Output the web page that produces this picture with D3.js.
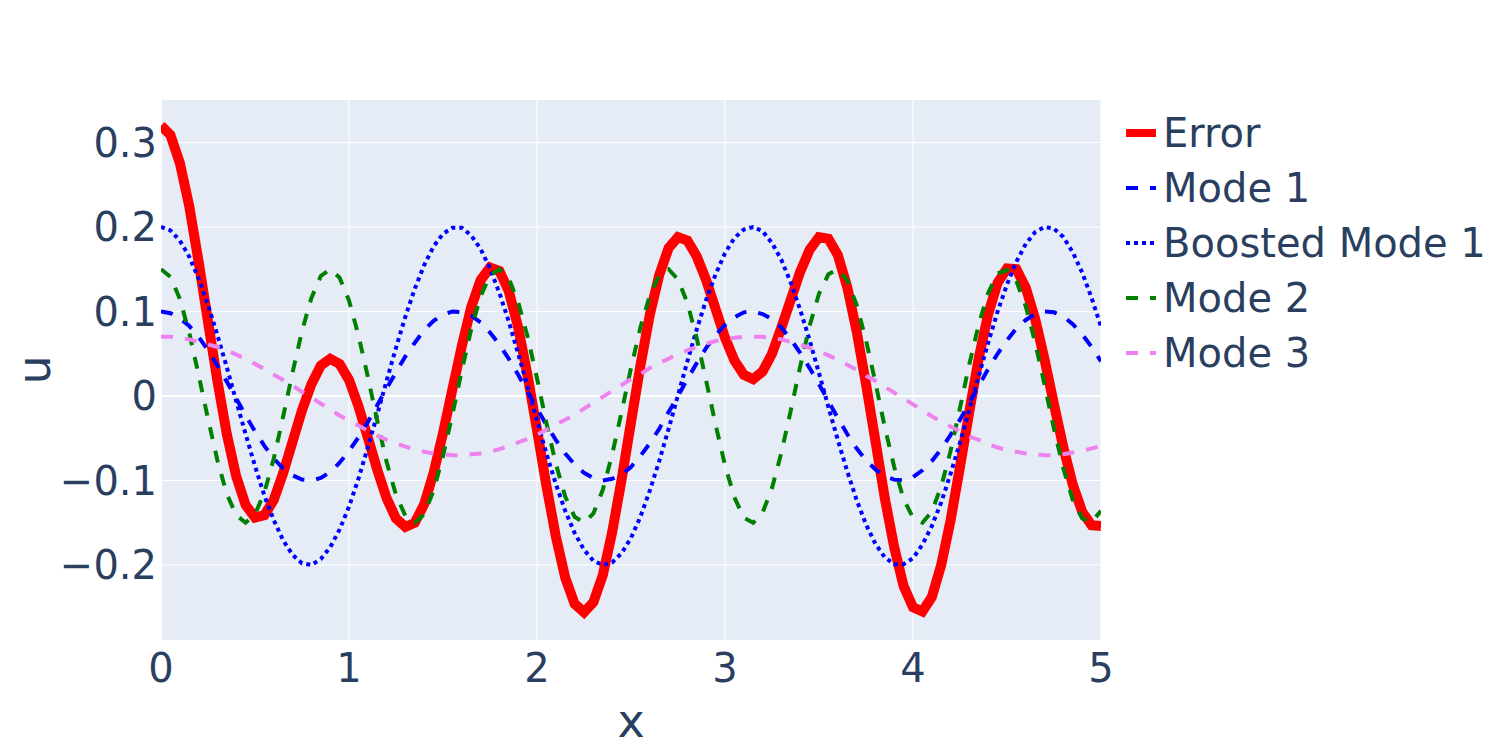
<!DOCTYPE html>
<meta charset="utf-8">
<style>
html, body { margin: 0; padding: 0; background: #fff; }
text { font-family: "DejaVu Sans", Verdana, sans-serif; fill: #2a3f5f; }
</style>
<body>
<svg width="1500" height="750"></svg>
<script src="https://cdn.jsdelivr.net/npm/d3@7"></script>
<script>

// sample positions along x
var xValues = [0,0.05,0.1,0.15,0.2,0.25,0.3,0.35,0.4,0.45,0.5,0.55,0.6,0.65,0.7,0.75,0.8,0.85,0.9,0.95,
    1,1.05,1.1,1.15,1.2,1.25,1.3,1.35,1.4,1.45,1.5,1.55,1.6,1.65,1.7,1.75,1.8,1.85,1.9,1.95,
    2,2.05,2.1,2.15,2.2,2.25,2.3,2.35,2.4,2.45,2.5,2.55,2.6,2.65,2.7,2.75,2.8,2.85,2.9,2.95,
    3,3.05,3.1,3.15,3.2,3.25,3.3,3.35,3.4,3.45,3.5,3.55,3.6,3.65,3.7,3.75,3.8,3.85,3.9,3.95,
    4,4.05,4.1,4.15,4.2,4.25,4.3,4.35,4.4,4.45,4.5,4.55,4.6,4.65,4.7,4.75,4.8,4.85,4.9,4.95,5];

var errorValues = [0.320,0.309,0.276,0.225,0.159,0.088,0.018,-0.045,-0.095,-0.129,
    -0.144,-0.141,-0.123,-0.091,-0.054,-0.017,0.014,0.036,0.044,0.038,
    0.019,-0.012,-0.049,-0.087,-0.121,-0.145,-0.155,-0.150,-0.128,-0.091,
    -0.044,0.008,0.059,0.105,0.137,0.152,0.148,0.124,0.081,0.024,
    -0.040,-0.106,-0.166,-0.215,-0.246,-0.256,-0.244,-0.212,-0.161,-0.099,
    -0.031,0.036,0.096,0.143,0.175,0.188,0.184,0.165,0.137,0.103,
    0.069,0.042,0.025,0.020,0.029,0.050,0.081,0.114,0.147,0.173,
    0.188,0.186,0.167,0.129,0.077,0.014,-0.053,-0.121,-0.179,-0.225,
    -0.250,-0.255,-0.238,-0.200,-0.147,-0.084,-0.018,0.045,0.097,0.134,
    0.151,0.150,0.128,0.091,0.043,-0.010,-0.061,-0.105,-0.137,-0.153,
    -0.154];

var mode1Values = [0.100,0.098,0.092,0.083,0.070,0.054,0.036,0.017,-0.003,-0.023,
    -0.042,-0.059,-0.074,-0.086,-0.094,-0.099,-0.100,-0.097,-0.090,-0.079,
    -0.065,-0.049,-0.031,-0.011,0.009,0.028,0.047,0.063,0.078,0.089,
    0.096,0.100,0.099,0.095,0.087,0.075,0.061,0.044,0.025,0.005,
    -0.015,-0.034,-0.052,-0.068,-0.081,-0.091,-0.097,-0.100,-0.098,-0.093,
    -0.084,-0.071,-0.056,-0.039,-0.019,0.000,0.020,0.039,0.057,0.072,
    0.084,0.093,0.099,0.100,0.097,0.091,0.081,0.067,0.051,0.033,
    0.014,-0.006,-0.026,-0.045,-0.062,-0.076,-0.087,-0.095,-0.099,-0.100,
    -0.096,-0.088,-0.077,-0.063,-0.046,-0.028,-0.008,0.012,0.032,0.050,
    0.066,0.080,0.090,0.097,0.100,0.099,0.094,0.085,0.073,0.058,
    0.041];

var boostedValues = [0.200,0.196,0.184,0.165,0.139,0.108,0.072,0.034,-0.006,-0.045,
    -0.083,-0.118,-0.147,-0.171,-0.188,-0.198,-0.200,-0.193,-0.179,-0.158,
    -0.131,-0.098,-0.061,-0.022,0.018,0.057,0.094,0.127,0.155,0.177,
    0.192,0.199,0.199,0.190,0.174,0.151,0.122,0.088,0.050,0.011,
    -0.029,-0.068,-0.104,-0.136,-0.162,-0.182,-0.195,-0.200,-0.197,-0.186,
    -0.168,-0.143,-0.112,-0.077,-0.039,0.001,0.041,0.079,0.114,0.144,
    0.169,0.187,0.197,0.200,0.195,0.181,0.161,0.134,0.102,0.066,
    0.027,-0.013,-0.052,-0.089,-0.123,-0.152,-0.175,-0.191,-0.199,-0.199,
    -0.192,-0.176,-0.154,-0.126,-0.092,-0.055,-0.016,0.024,0.063,0.100,
    0.132,0.159,0.180,0.194,0.200,0.198,0.188,0.170,0.146,0.116,
    0.082];

var mode2Values = [0.150,0.141,0.115,0.075,0.025,-0.027,-0.076,-0.116,-0.141,-0.150,
    -0.140,-0.114,-0.074,-0.024,0.028,0.077,0.116,0.142,0.150,0.140,
    0.113,0.072,0.023,-0.029,-0.078,-0.117,-0.142,-0.150,-0.140,-0.112,
    -0.071,-0.022,0.030,0.079,0.118,0.143,0.150,0.139,0.111,0.070,
    0.021,-0.032,-0.080,-0.119,-0.143,-0.150,-0.139,-0.111,-0.069,-0.019,
    0.033,0.081,0.119,0.143,0.150,0.138,0.110,0.068,0.018,-0.034,
    -0.082,-0.120,-0.144,-0.150,-0.138,-0.109,-0.067,-0.017,0.035,0.083,
    0.121,0.144,0.150,0.137,0.108,0.066,0.016,-0.037,-0.084,-0.122,
    -0.144,-0.150,-0.137,-0.107,-0.065,-0.014,0.038,0.085,0.122,0.145,
    0.149,0.136,0.106,0.063,0.013,-0.039,-0.086,-0.123,-0.145,-0.149,
    -0.136];

var mode3Values = [0.070,0.070,0.069,0.067,0.064,0.061,0.058,0.054,0.049,0.044,
    0.038,0.032,0.025,0.019,0.012,0.005,-0.002,-0.009,-0.016,-0.023,
    -0.029,-0.035,-0.041,-0.047,-0.052,-0.056,-0.060,-0.063,-0.066,-0.068,
    -0.069,-0.070,-0.070,-0.069,-0.068,-0.066,-0.063,-0.059,-0.055,-0.051,
    -0.046,-0.040,-0.034,-0.028,-0.022,-0.015,-0.008,-0.001,0.006,0.013,
    0.020,0.026,0.033,0.039,0.044,0.050,0.054,0.058,0.062,0.065,
    0.067,0.069,0.070,0.070,0.070,0.068,0.067,0.064,0.061,0.057,
    0.053,0.048,0.043,0.037,0.031,0.024,0.018,0.011,0.004,-0.003,
    -0.010,-0.017,-0.024,-0.030,-0.036,-0.042,-0.048,-0.052,-0.057,-0.061,
    -0.064,-0.066,-0.068,-0.069,-0.070,-0.070,-0.069,-0.067,-0.065,-0.062,
    -0.059];

var seriesNames = ["Error", "Mode 1", "Boosted Mode 1", "Mode 2", "Mode 3"];
var xTicks = [0, 1, 2, 3, 4, 5];
var yTicks = [-0.2, -0.1, 0, 0.1, 0.2, 0.3];

// trace styles, same order as seriesNames
var traces = [
    {name: seriesNames[0], values: errorValues,   colour: "red",    width: 10, legendWidth: 8, dash: null},
    {name: seriesNames[1], values: mode1Values,   colour: "blue",   width: 4, legendWidth: 4, dash: "12,12"},
    {name: seriesNames[2], values: boostedValues, colour: "blue",   width: 4, legendWidth: 4, dash: "4,4"},
    {name: seriesNames[3], values: mode2Values,   colour: "green",  width: 4, legendWidth: 4, dash: "12,12"},
    {name: seriesNames[4], values: mode3Values,   colour: "violet", width: 4, legendWidth: 4, dash: "12,12"}
];

var svg = d3.select("svg");
var plot = {left: 161, right: 1101, top: 100, bottom: 640};

var x = d3.scaleLinear().domain([0, 5]).range([plot.left, plot.right]);
var y = d3.scaleLinear().domain([-0.2888, 0.3503]).range([plot.bottom, plot.top]);

svg.append("rect")
    .attr("x", plot.left).attr("y", plot.top)
    .attr("width", plot.right - plot.left).attr("height", plot.bottom - plot.top)
    .attr("fill", "#E5ECF6");

svg.append("clipPath").attr("id", "plot_clip")
  .append("rect")
    .attr("x", plot.left).attr("y", plot.top)
    .attr("width", plot.right - plot.left).attr("height", plot.bottom - plot.top);

// grid lines
var grid = svg.append("g");
grid.selectAll(".xgrid")
    .data(xTicks)
    .enter().append("line")
    .attr("x1", function(d) { return x(d); }).attr("x2", function(d) { return x(d); })
    .attr("y1", plot.top).attr("y2", plot.bottom)
    .attr("stroke", "white")
    .attr("stroke-width", function(d) { return d == 0 ? 2 : 1; });
grid.selectAll(".ygrid")
    .data(yTicks)
    .enter().append("line")
    .attr("y1", function(d) { return y(d); }).attr("y2", function(d) { return y(d); })
    .attr("x1", plot.left).attr("x2", plot.right)
    .attr("stroke", "white")
    .attr("stroke-width", function(d) { return d == 0 ? 2 : 1; });

// tick labels
function tick_label(d) {
    if (d == 0) return "0";
    return (d < 0 ? "\u2212" : "") + Math.abs(d).toFixed(1);
}

svg.append("g").selectAll("text")
    .data(xTicks)
    .enter().append("text")
    .attr("x", function(d) { return x(d); })
    .attr("y", 682)
    .attr("text-anchor", "middle")
    .attr("font-size", 40)
    .text(function(d) { return d; });

svg.append("g").selectAll("text")
    .data(yTicks)
    .enter().append("text")
    .attr("x", 157)
    .attr("y", function(d) { return y(d); })
    .attr("dy", "0.36em")
    .attr("text-anchor", "end")
    .attr("font-size", 40)
    .text(tick_label);

// axis titles
svg.append("text")
    .attr("x", (plot.left + plot.right) / 2)
    .attr("y", 737)
    .attr("text-anchor", "middle")
    .attr("font-size", 46)
    .text("x");

svg.append("text")
    .attr("transform", "translate(50," + ((plot.top + plot.bottom) / 2) + ") rotate(-90)")
    .attr("text-anchor", "middle")
    .attr("font-size", 46)
    .text("u");

// the lines
var line = d3.line()
    .x(function(d, i) { return x(xValues[i]); })
    .y(function(d) { return y(d); });

svg.append("g")
    .attr("clip-path", "url(#plot_clip)")
    .selectAll("path")
    .data(traces)
    .enter().append("path")
    .attr("d", function(d) { return line(d.values); })
    .attr("fill", "none")
    .attr("stroke", function(d) { return d.colour; })
    .attr("stroke-width", function(d) { return d.width; })
    .attr("stroke-dasharray", function(d) { return d.dash; });

// legend
var legend = svg.append("g")
    .selectAll("g")
    .data(traces)
    .enter().append("g")
    .attr("transform", function(d, i) { return "translate(1126," + (133 + i * 55) + ")"; });

legend.append("line")
    .attr("x1", 0).attr("x2", 30)
    .attr("stroke", function(d) { return d.colour; })
    .attr("stroke-width", function(d) { return d.legendWidth; })
    .attr("stroke-dasharray", function(d) { return d.dash; });

legend.append("text")
    .attr("x", 37)
    .attr("dy", "0.36em")
    .attr("font-size", 40)
    .text(function(d) { return d.name; });

</script>
</body>
